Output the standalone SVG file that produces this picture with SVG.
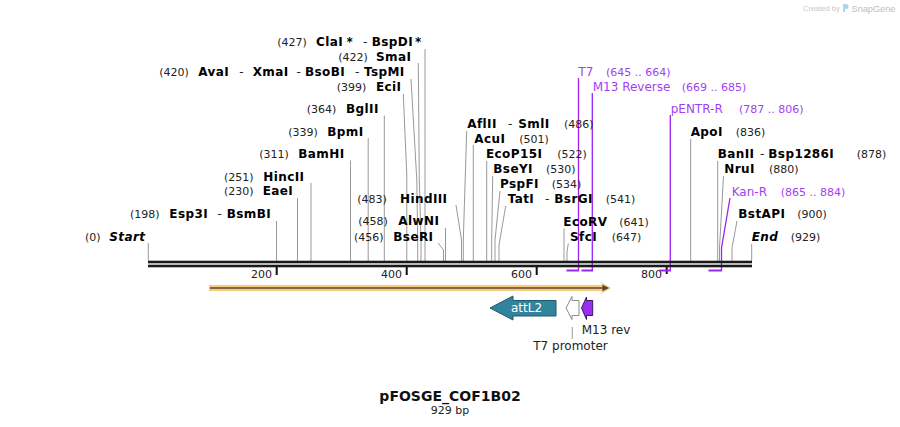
<svg xmlns="http://www.w3.org/2000/svg" width="900" height="427" viewBox="0 0 900 427">
<style>
text{font-family:"DejaVu Sans",Verdana,sans-serif;}
.n{font-size:11px;fill:#222;}
.e{font-size:12px;font-weight:bold;fill:#000;letter-spacing:0.4px;}
.i{font-style:italic;}
.h{font-size:12px;fill:#222;}
.pn{font-size:12px;fill:#a23ff0;}
.pr{font-size:11px;fill:#a23ff0;}
.c{stroke:#999;stroke-width:1;fill:none;}
.pc{stroke:#a020f0;stroke-width:1.3;fill:none;}
.pb{stroke:#a020f0;stroke-width:2;fill:none;}
.tick{fill:#111;}
.ax{font-size:11px;fill:#222;text-anchor:end;}
</style>
<rect width="900" height="427" fill="#fff"/>

<g id="watermark">
<text x="803" y="11" style="font-family:'Liberation Sans',Arial,sans-serif;font-size:7.5px;fill:#c8c8c8">Created by</text>
<path d="M843,4 h3 a2.5,2.5 0 0 1 0,5 h-1 v3 h-2 z" fill="#a9d6ee"/>
<text x="851.5" y="11.5" style="font-family:'Liberation Sans',Arial,sans-serif;font-size:9.2px;fill:#bdbdbd">SnapGene</text>
</g>

<g id="connectors">
<polyline class="c" points="148.3,243 148.3,261"/>
<polyline class="c" points="276.5,221 276.5,261"/>
<polyline class="c" points="297.5,198 297.5,261"/>
<polyline class="c" points="311,183 311,261"/>
<polyline class="c" points="350.5,160.5 350.5,261"/>
<polyline class="c" points="368.2,138 368.2,261"/>
<polyline class="c" points="384.3,115.5 384.3,261"/>
<polyline class="c" points="403.3,94 406.8,175 406.8,261"/>
<polyline class="c" points="411,79 416.8,180 417.7,240 417.7,261"/>
<polyline class="c" points="418.3,63 419.3,180 421,240 421,261"/>
<polyline class="c" points="425,49 425,261"/>
<polyline class="c" points="456,205 461.5,240 461.5,261"/>
<polyline class="c" points="445.5,228 445.5,261"/>
<polyline class="c" points="438,243 443.5,250 443.5,261"/>
<polyline class="c" points="466.7,131 463.3,240 463.3,261"/>
<polyline class="c" points="473.3,145 473.3,261"/>
<polyline class="c" points="486.7,161 486.7,261"/>
<polyline class="c" points="492.7,176 491.7,240 491.7,261"/>
<polyline class="c" points="500,191 495,240 495,261"/>
<polyline class="c" points="505.7,206 499,245 499,261"/>
<polyline class="c" points="564,228.5 564,261"/>
<polyline class="c" points="568.3,243.5 567,252 567,261"/>
<polyline class="c" points="690.7,139 690.7,261"/>
<polyline class="c" points="717.7,161 717.7,261"/>
<polyline class="c" points="723.5,176 719.5,248 719.5,261"/>
<polyline class="c" points="737,221 732,248 732,261"/>
<polyline class="c" points="751.7,244 751.7,261"/>
<polyline class="pc" points="578.5,78 578.5,271"/>
<polyline class="pc" points="592.3,93 592.3,271"/>
<polyline class="pc" points="670.3,115 670.3,271"/>
<polyline class="pc" points="730,198 721.5,248 721.5,271"/>
<line class="c" x1="572.3" y1="327" x2="572.3" y2="339"/>
</g>

<g id="backbone">
<rect x="148" y="260.7" width="604" height="2.6" fill="#1a1a1a"/>
<rect x="148" y="264.7" width="604" height="2.6" fill="#1a1a1a"/>
<rect class="tick" x="275.7" y="267" width="2" height="8"/>
<rect class="tick" x="405.7" y="267" width="2" height="8"/>
<rect class="tick" x="535.7" y="267" width="2" height="8"/>
<rect class="tick" x="665.7" y="267" width="2" height="7"/>
<text class="ax" x="272" y="278">200</text>
<text class="ax" x="402" y="278">400</text>
<text class="ax" x="532" y="278">600</text>
<text class="ax" x="662" y="278">800</text>
</g>

<g id="primer-bars">
<line class="pb" x1="566.5" y1="270.5" x2="579" y2="270.5"/>
<line class="pb" x1="581.5" y1="270.5" x2="593" y2="270.5"/>
<line class="pb" x1="659" y1="270.5" x2="671" y2="270.5"/>
<line class="pb" x1="708.5" y1="270.5" x2="722" y2="270.5"/>
</g>

<g id="orange-feature">
<rect x="209" y="285" width="396" height="6" fill="#f8ca7e"/>
<polygon points="601.5,282.5 611,288 601.5,293.5" fill="#f8ca7e"/>
<line x1="210" y1="288" x2="604" y2="288" stroke="#5a4630" stroke-width="1.6"/>
<polygon points="602.5,284.8 609,288 602.5,291.2" fill="#5a4630"/>
</g>

<g id="attL2">
<polygon points="490,308 513,296 513,300.5 556,300.5 556,316 513,316 513,320" fill="#31849b" stroke="#22596a" stroke-width="1"/>
<text x="526.5" y="312" text-anchor="middle" style="font-size:12px;fill:#fff">attL2</text>
</g>

<g id="T7-promoter">
<polygon points="566,308 572,296.5 572,300.5 579,300.5 579,315.5 572,315.5 572,319.5" fill="#fff" stroke="#8a8a8a" stroke-width="1"/>
<text class="h" x="570.5" y="350" text-anchor="middle">T7 promoter</text>
</g>

<g id="M13-rev">
<polygon points="581.5,308 586.5,297 586.5,300.5 592.7,300.5 592.7,315.5 586.5,315.5 586.5,319.5" fill="#9b2ff0" stroke="#3a1a5a" stroke-width="1"/>
<text class="h" x="581.7" y="334">M13 rev</text>
</g>

<g id="site-ClaI"><text y="46"><tspan class="n" x="277.3">(427)</tspan><tspan class="e" x="316">ClaI</tspan><tspan class="e" x="346.5">*</tspan><tspan class="h" x="363">-</tspan><tspan class="e" x="371.7">BspDI</tspan><tspan class="e" x="415">*</tspan></text></g>
<g id="site-SmaI"><text y="61"><tspan class="n" x="338.3">(422)</tspan><tspan class="e" x="376">SmaI</tspan></text></g>
<g id="site-AvaI"><text y="76"><tspan class="n" x="159.3">(420)</tspan><tspan class="e" x="198.3">AvaI</tspan><tspan class="h" x="239.3">-</tspan><tspan class="e" x="252.7">XmaI</tspan><tspan class="h" x="296.5">-</tspan><tspan class="e" x="305">BsoBI</tspan><tspan class="h" x="355">-</tspan><tspan class="e" x="364">TspMI</tspan></text></g>
<g id="site-EciI"><text y="91"><tspan class="n" x="336.7">(399)</tspan><tspan class="e" x="376">EciI</tspan></text></g>
<g id="site-BglII"><text y="113"><tspan class="n" x="306.7">(364)</tspan><tspan class="e" x="346">BglII</tspan></text></g>
<g id="site-BpmI"><text y="135.5"><tspan class="n" x="288.3">(339)</tspan><tspan class="e" x="327.3">BpmI</tspan></text></g>
<g id="site-BamHI"><text y="158"><tspan class="n" x="259.3">(311)</tspan><tspan class="e" x="298.3">BamHI</tspan></text></g>
<g id="site-HincII"><text y="180.5"><tspan class="n" x="224">(251)</tspan><tspan class="e" x="263.3">HincII</tspan></text></g>
<g id="site-EaeI"><text y="195"><tspan class="n" x="224">(230)</tspan><tspan class="e" x="262.7">EaeI</tspan></text></g>
<g id="site-Esp3I"><text y="218"><tspan class="n" x="130">(198)</tspan><tspan class="e" x="169.3">Esp3I</tspan><tspan class="h" x="217.5">-</tspan><tspan class="e" x="226.7">BsmBI</tspan></text></g>
<g id="site-Start"><text y="241"><tspan class="n" x="85">(0)</tspan><tspan class="e i" x="109.3">Start</tspan></text></g>
<g id="site-HindIII"><text y="203"><tspan class="n" x="357.3">(483)</tspan><tspan class="e" x="400">HindIII</tspan></text></g>
<g id="site-AlwNI"><text y="225"><tspan class="n" x="358.3">(458)</tspan><tspan class="e" x="398.3">AlwNI</tspan></text></g>
<g id="site-BseRI"><text y="241"><tspan class="n" x="354">(456)</tspan><tspan class="e" x="393.3">BseRI</tspan></text></g>

<g id="site-AflII"><text y="128"><tspan class="e" x="467.3">AflII</tspan><tspan class="h" x="508">-</tspan><tspan class="e" x="518.3">SmlI</tspan><tspan class="n" x="564">(486)</tspan></text></g>
<g id="site-AcuI"><text y="143"><tspan class="e" x="474.3">AcuI</tspan><tspan class="n" x="519.3">(501)</tspan></text></g>
<g id="site-EcoP15I"><text y="158"><tspan class="e" x="486">EcoP15I</tspan><tspan class="n" x="557.3">(522)</tspan></text></g>
<g id="site-BseYI"><text y="173"><tspan class="e" x="493.3">BseYI</tspan><tspan class="n" x="546">(530)</tspan></text></g>
<g id="site-PspFI"><text y="188"><tspan class="e" x="500">PspFI</tspan><tspan class="n" x="551.7">(534)</tspan></text></g>
<g id="site-TatI"><text y="203"><tspan class="e" x="507.7">TatI</tspan><tspan class="h" x="545">-</tspan><tspan class="e" x="554.3">BsrGI</tspan><tspan class="n" x="605.7">(541)</tspan></text></g>
<g id="site-EcoRV"><text y="225.5"><tspan class="e" x="563.3">EcoRV</tspan><tspan class="n" x="619.3">(641)</tspan></text></g>
<g id="site-SfcI"><text y="241"><tspan class="e" x="570">SfcI</tspan><tspan class="n" x="611.7">(647)</tspan></text></g>
<g id="site-ApoI"><text y="135.5"><tspan class="e" x="690.7">ApoI</tspan><tspan class="n" x="735.7">(836)</tspan></text></g>
<g id="site-BanII"><text y="158"><tspan class="e" x="717.7">BanII</tspan><tspan class="h" x="760">-</tspan><tspan class="e" x="768.3">Bsp1286I</tspan><tspan class="n" x="856.7">(878)</tspan></text></g>
<g id="site-NruI"><text y="173"><tspan class="e" x="724.3">NruI</tspan><tspan class="n" x="769">(880)</tspan></text></g>
<g id="site-BstAPI"><text y="218"><tspan class="e" x="738.3">BstAPI</tspan><tspan class="n" x="797.3">(900)</tspan></text></g>
<g id="site-End"><text y="241"><tspan class="e i" x="751.7">End</tspan><tspan class="n" x="790.7">(929)</tspan></text></g>

<g id="primer-T7"><text y="76"><tspan class="pn" x="578.3">T7</tspan><tspan class="pr" x="606">(645 .. 664)</tspan></text></g>
<g id="primer-M13Reverse"><text y="91"><tspan class="pn" x="592.7">M13 Reverse</tspan><tspan class="pr" x="681.7">(669 .. 685)</tspan></text></g>
<g id="primer-pENTR-R"><text y="113"><tspan class="pn" x="670.7">pENTR-R</tspan><tspan class="pr" x="739">(787 .. 806)</tspan></text></g>
<g id="primer-Kan-R"><text y="195.5"><tspan class="pn" x="731.7">Kan-R</tspan><tspan class="pr" x="780.7">(865 .. 884)</tspan></text></g>

<g id="title">
<text x="450" y="401" text-anchor="middle" style="font-size:14px;font-weight:bold;fill:#111">pFOSGE_COF1B02</text>
<text x="450" y="414" text-anchor="middle" class="n">929 bp</text>
</g>
</svg>
